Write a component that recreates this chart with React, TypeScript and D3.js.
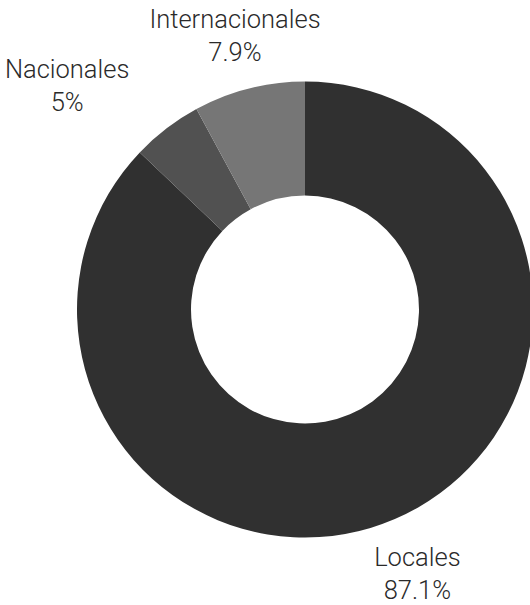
import React, { useEffect, useRef } from 'react';
import * as d3 from 'd3';

// share of visitors by origin (%)
const categories = ['Locales', 'Nacionales', 'Internacionales'];
const values = [87.1, 5, 7.9];
const colors = ['#303030', '#515151', '#767676'];

const width = 530;
const height = 605;

export default function App() {
  const ref = useRef<SVGSVGElement>(null);

  useEffect(() => {
    const svg = d3.select(ref.current);
    svg.selectAll('*').remove();

    const cx = 305;
    const cy = 309.5;
    const outer = 228;
    const inner = outer * 0.5;

    const data = categories.map((c, i) => ({ name: c, value: values[i], color: colors[i] }));

    const pie = d3.pie<any>().sort(null).value(d => d.value);
    const arcs = pie(data);

    const arc = d3.arc<any>().innerRadius(inner).outerRadius(outer);
    const labelArc = d3.arc<any>().innerRadius(285).outerRadius(285);

    const g = svg.append('g').attr('transform', `translate(${cx},${cy})`);

    g.selectAll('path')
      .data(arcs)
      .enter()
      .append('path')
      .attr('d', arc)
      .attr('fill', d => d.data.color);

    const labels = g.selectAll('g.label')
      .data(arcs)
      .enter()
      .append('g')
      .attr('class', 'label');

    const text = labels.append('text')
      .attr('text-anchor', 'middle')
      .attr('fill', '#2a2a2a')
      .style('font-family', 'Roboto, sans-serif')
      .style('font-weight', 300)
      .style('font-size', '25.5px');

    text.append('tspan')
      .attr('x', 0)
      .attr('y', -5)
      .text(d => d.data.name);
    text.append('tspan')
      .attr('x', 0)
      .attr('y', 28)
      .text(d => d3.format('~')(d.data.value) + '%');

    // place labels at the arc, then push the left one of an overlapping pair further left
    const pos = arcs.map(d => labelArc.centroid(d));
    const boxes: any[] = [];
    text.each(function () {
      boxes.push((this as SVGTextElement).getBBox());
    });
    const gap = 20;
    for (let i = 0; i < arcs.length; i++) {
      for (let j = 0; j < i; j++) {
        const a = boxes[i], b = boxes[j];
        const ax0 = pos[i][0] + a.x, ax1 = ax0 + a.width;
        const bx0 = pos[j][0] + b.x, bx1 = bx0 + b.width;
        const ay0 = pos[i][1] + a.y, ay1 = ay0 + a.height;
        const by0 = pos[j][1] + b.y, by1 = by0 + b.height;
        if (ax0 < bx1 && bx0 < ax1 && ay0 < by1 && by0 < ay1) {
          if (pos[i][0] < pos[j][0]) pos[i][0] -= ax1 - bx0 + gap;
          else pos[j][0] -= bx1 - ax0 + gap;
        }
      }
    }
    labels.attr('transform', (d, i) => `translate(${pos[i][0]},${pos[i][1]})`);
  }, []);

  return (
    <svg
      ref={ref}
      width={width}
      height={height}
      style={{ position: 'absolute', left: 0, top: 0, background: '#fff' }}
    />
  );
}
